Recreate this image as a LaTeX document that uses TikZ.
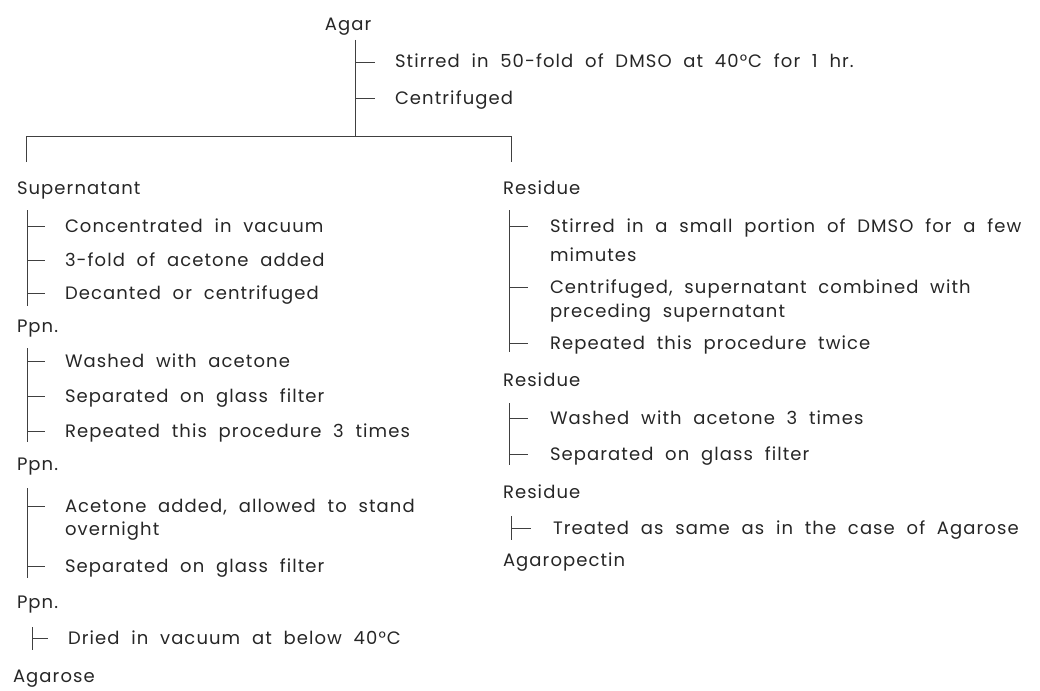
\documentclass[tikz,border=0pt]{standalone}
\usepackage{fontspec}
\setmainfont{Poppins}[LetterSpace=6,WordSpace=2.0]
\newcommand\stepfont{\fontsize{18}{20}\selectfont}

\begin{document}
\begin{tikzpicture}[
            x=1pt, y=-1pt,
            every node/.style={anchor=west, inner sep=0pt, outer sep=0pt,
                text height=12pt, text depth=0pt, font=\stepfont, black!85},
            rail/.style={draw, line width=0.8pt, black!75}
        ]
        \useasboundingbox (0,0) rectangle (1040,690);
        % agar and the first treatment
        \node[anchor=center] (agar) at (348,25) {Agar};
        \node (a1) at (395,62) {Stirred in 50-fold of DMSO at 40°C for 1 hr.};
        \node (a2) at (395,98) {Centrifuged};
        \coordinate (top) at (355,40);
        \coordinate (split) at (355,136);
        \coordinate (barL) at (26,136);
        \coordinate (barR) at (511,136);
        \coordinate (dropL) at (26,162);
        \coordinate (dropR) at (511,162);
        % supernatant side
        \node (sup) at (17,188) {Supernatant};
        \node (s1) at (65,226) {Concentrated in vacuum};
        \node (s2) at (65,260) {3-fold of acetone added};
        \node (s3) at (65,293) {Decanted or centrifuged};
        \node (ppn1) at (17,326) {Ppn.};
        \node (w1) at (65,361) {Washed with acetone};
        \node (w2) at (65,396) {Separated on glass filter};
        \node (w3) at (65,431) {Repeated this procedure 3 times};
        \node (ppn2) at (17,464) {Ppn.};
        \node (n1) at (65,506) {Acetone added, allowed to stand};
        \node (n1b) at (65,529) {overnight};
        \node (n2) at (65,566) {Separated on glass filter};
        \node (ppn3) at (17,602) {Ppn.};
        \node (d1) at (68,638) {Dried in vacuum at below 40°C};
        \node (agarose) at (13,676) {Agarose};
        % residue side
        \node (res1) at (503,188) {Residue};
        \node (r1) at (550,226) {Stirred in a small portion of DMSO for a few};
        \node (r1b) at (550,255) {mimutes};
        \node (r2) at (550,287) {Centrifuged, supernatant combined with};
        \node (r2b) at (550,311) {preceding supernatant};
        \node (r3) at (550,343) {Repeated this procedure twice};
        \node (res2) at (503,380) {Residue};
        \node (q1) at (550,418) {Washed with acetone 3 times};
        \node (q2) at (550,454) {Separated on glass filter};
        \node (res3) at (503,492) {Residue};
        \node (e1) at (553,528) {Treated as same as in the case of Agarose};
        \node (pectin) at (503,560) {Agaropectin};
        % spines
        \coordinate (spS) at (27,210);   \coordinate (spSe) at (27,306);
        \coordinate (spW) at (27,348);   \coordinate (spWe) at (27,442);
        \coordinate (spN) at (27,488);   \coordinate (spNe) at (27,578);
        \coordinate (spD) at (32,627);   \coordinate (spDe) at (32,650);
        \coordinate (spR) at (509,210);  \coordinate (spRe) at (509,352);
        \coordinate (spQ) at (509,403);  \coordinate (spQe) at (509,465);
        \coordinate (spE) at (511,516);  \coordinate (spEe) at (511,540);

        \draw[rail] (top) -- (split);
        \draw[rail] (dropL) -- (barL) -- (barR) -- (dropR);
        \draw[rail] (spS) -- (spSe);
        \draw[rail] (spW) -- (spWe);
        \draw[rail] (spN) -- (spNe);
        \draw[rail] (spD) -- (spDe);
        \draw[rail] (spR) -- (spRe);
        \draw[rail] (spQ) -- (spQe);
        \draw[rail] (spE) -- (spEe);
        % ticks
        \foreach \s in {a1,a2} \draw[rail] (top |- \s.west) -- ([xshift=-20pt]\s.west);
        \foreach \s in {s1,s2,s3} \draw[rail] (spS |- \s.west) -- ([xshift=-20pt]\s.west);
        \foreach \s in {w1,w2,w3} \draw[rail] (spW |- \s.west) -- ([xshift=-20pt]\s.west);
        \foreach \s in {n1,n2} \draw[rail] (spN |- \s.west) -- ([xshift=-20pt]\s.west);
        \draw[rail] (spD |- d1.west) -- ([xshift=-20pt]d1.west);
        \foreach \s in {r1,r2,r3} \draw[rail] (spR |- \s.west) -- ([xshift=-22pt]\s.west);
        \foreach \s in {q1,q2} \draw[rail] (spQ |- \s.west) -- ([xshift=-22pt]\s.west);
        \draw[rail] (spE |- e1.west) -- ([xshift=-22pt]e1.west);
    \end{tikzpicture}
\end{document}
